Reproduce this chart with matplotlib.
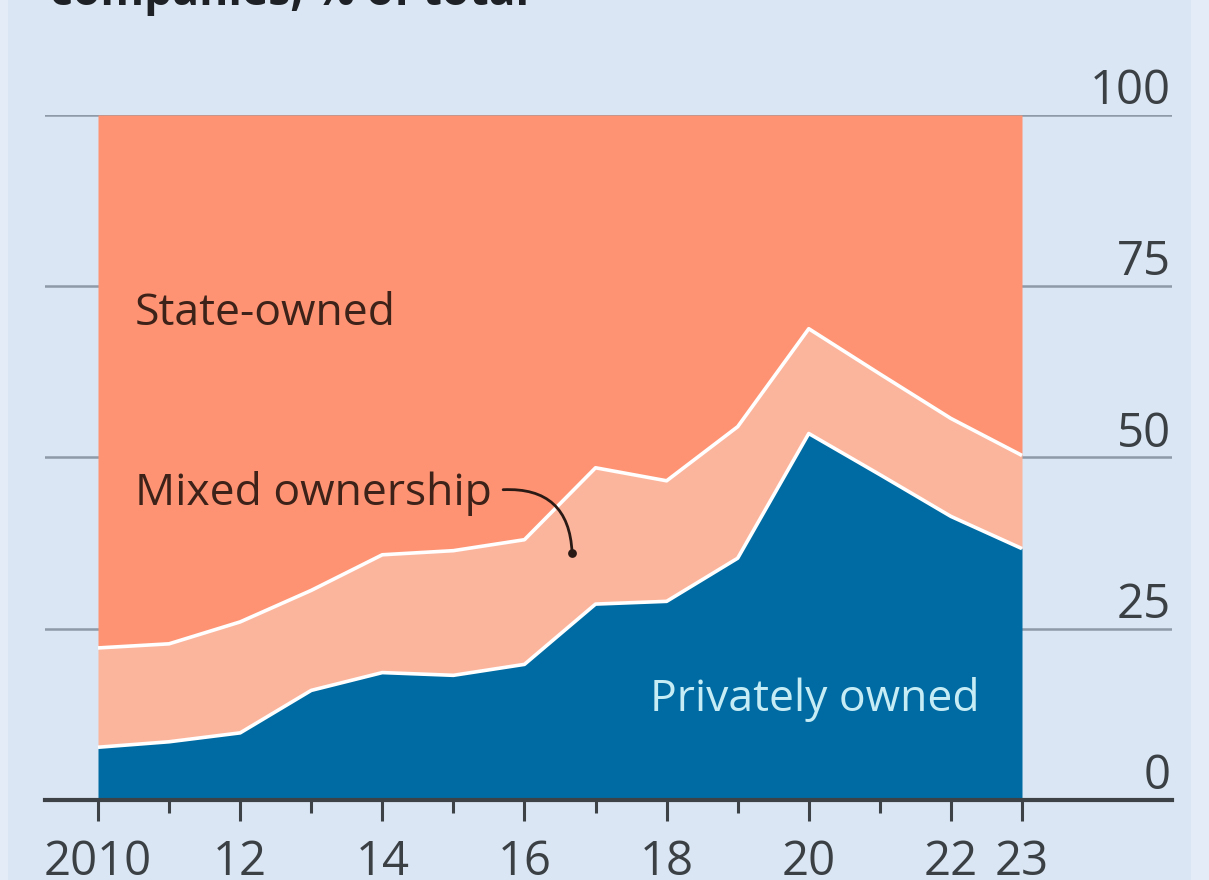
import matplotlib
matplotlib.use("Agg")
import matplotlib.pyplot as plt
import matplotlib.transforms as mtransforms
from matplotlib.patches import Rectangle
import numpy as np

# Shares of companies by ownership type, % of total
years = [2010, 2011, 2012, 2013, 2014, 2015, 2016, 2017, 2018, 2019, 2020, 2021, 2022, 2023]
private = [7.7, 8.5, 9.8, 16.0, 18.6, 18.2, 19.8, 28.6, 29.0, 35.3, 53.5, 47.5, 41.4, 36.7]
mixed = [14.5, 14.3, 16.2, 14.6, 17.2, 18.2, 18.2, 19.9, 17.6, 19.2, 15.3, 14.7, 14.3, 13.6]
state = [77.8, 77.2, 74.0, 69.4, 64.2, 63.6, 62.0, 51.5, 53.4, 45.5, 31.2, 37.8, 44.3, 49.7]

major_years = [2010, 2012, 2014, 2016, 2018, 2020, 2022, 2023]
major_labels = ["2010", "12", "14", "16", "18", "20", "22", "23"]
minor_years = [2011, 2013, 2015, 2017, 2019, 2021]
y_ticks = [0, 25, 50, 75, 100]
y_labels = ["0", "25", "50", "75", "100"]

BG = "#dae6f3"
EDGE = "#e3ecf7"
C_PRIVATE = "#006ba2"
C_MIXED = "#fcb59d"
C_STATE = "#fe9373"
GRID = "#8e9aa7"
AXIS = "#3d4247"
TXT = "#3b4045"
LABEL_DARK = "#3d2219"
LABEL_LIGHT = "#c6ecf5"
FONT = "Open Sans"

W, H = 1209, 880
fig = plt.figure(figsize=(W / 100, H / 100), dpi=100, facecolor=BG)

# slightly lighter margins at the left and right edges
fig.patches.append(Rectangle((0, 0), 8 / W, 1, transform=fig.transFigure,
                             facecolor=EDGE, lw=0, zorder=0))
fig.patches.append(Rectangle((1191 / W, 0), 18 / W, 1, transform=fig.transFigure,
                             facecolor=EDGE, lw=0, zorder=0))

left_px, right_px = 45, 1172
bottom_px, top_px = 800, 115
ax = fig.add_axes([left_px / W, (H - bottom_px) / H,
                   (right_px - left_px) / W, (bottom_px - top_px) / H])
ax.set_facecolor("none")

px_per_year = (1022 - 98) / 13
ax.set_xlim(2010 - (98 - left_px) / px_per_year, 2023 + (right_px - 1022) / px_per_year)
ax.set_ylim(0, 100)

x = np.array(years, dtype=float)
p = np.array(private)
m = np.array(mixed)
s = np.array(state)
lvl1 = p
lvl2 = p + m
lvl3 = p + m + s

# gridlines behind the areas
for yv in y_ticks[1:]:
    ax.axhline(yv, color=GRID, lw=1.8, zorder=0)

ax.fill_between(x, 0, lvl1, color=C_PRIVATE, lw=0, zorder=1)
ax.fill_between(x, lvl1, lvl2, color=C_MIXED, lw=0, zorder=1)
ax.fill_between(x, lvl2, lvl3, color=C_STATE, lw=0, zorder=1)
ax.plot(x, lvl1, color="white", lw=2.6, zorder=2, solid_capstyle="butt")
ax.plot(x, lvl2, color="white", lw=2.6, zorder=2, solid_capstyle="butt")

# axes styling
for side in ["left", "right", "top"]:
    ax.spines[side].set_visible(False)
ax.spines["bottom"].set_color(AXIS)
ax.spines["bottom"].set_linewidth(3.0)
ax.spines["bottom"].set_zorder(3)
ax.set_yticks([])
ax.set_xticks(major_years)
ax.set_xticks(minor_years, minor=True)
ax.tick_params(axis="x", which="major", direction="out", length=15, width=2.2,
               color=AXIS, labelbottom=False)
ax.tick_params(axis="x", which="minor", direction="out", length=9.5, width=2.2,
               color=AXIS, labelbottom=False)

# x tick labels
xtrans = mtransforms.blended_transform_factory(ax.transData, fig.transFigure)
for yr, lab in zip(major_years, major_labels):
    ax.text(yr, 5 / H, lab, transform=xtrans, ha="center", va="baseline",
            fontsize=34, color=TXT, family=FONT, clip_on=False)

# y tick labels on the right, sitting above the gridlines
ytrans = mtransforms.blended_transform_factory(fig.transFigure, ax.transData)
for yv, lab in zip(y_ticks, y_labels):
    t = ax.text(1171 / W, yv, lab, transform=ytrans, ha="right", va="baseline",
                fontsize=34, color=TXT, family=FONT, clip_on=False)
    t.set_transform(ytrans + mtransforms.ScaledTranslation(0, 11 / 100, fig.dpi_scale_trans))

# series labels
ax.text(2010.52, 71.0, "State-owned", ha="left", va="center", fontsize=32,
        color=LABEL_DARK, family=FONT, zorder=4)
ax.text(2010.52, 44.8, "Mixed ownership", ha="left", va="center", fontsize=32,
        color=LABEL_DARK, family=FONT, zorder=4)
ax.text(2017.77, 14.6, "Privately owned", ha="left", va="center", fontsize=32,
        color=LABEL_LIGHT, family=FONT, zorder=4)

# pointer from the "Mixed ownership" label into its band
dot_x, dot_y = 2016.67, 36.1
ax.annotate("", xy=(dot_x, dot_y), xytext=(2015.70, 45.3),
            arrowprops=dict(arrowstyle="-", color="#2a1a15", lw=2.0,
                            connectionstyle="arc3,rad=-0.5",
                            shrinkA=0, shrinkB=0), zorder=4)
ax.scatter([dot_x], [dot_y], s=40, color="#2a1a15", zorder=5, lw=0)

# subtitle, running off the top edge
fig.text(50 / W, 1 - 5 / H, "companies, % of total", ha="left", va="baseline",
         fontsize=32, fontweight="bold", color="#1e2226", family=FONT)

fig.savefig("out.png", dpi=100, facecolor=BG)
